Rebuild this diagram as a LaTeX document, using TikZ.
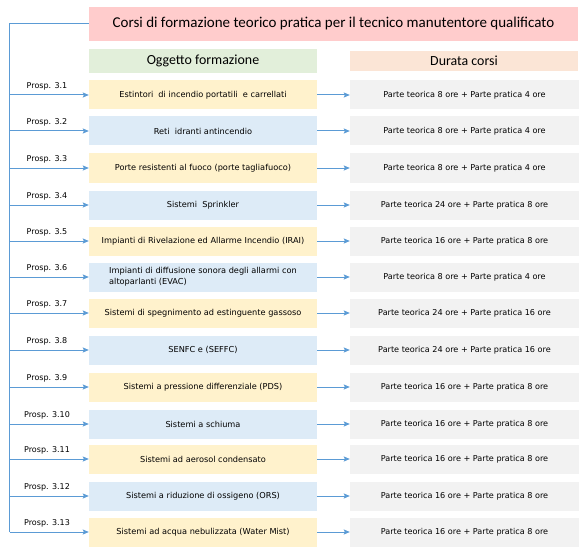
\documentclass[tikz,border=0pt]{standalone}
\usepackage{fontspec}
\setmainfont{DejaVu Sans}
\newfontfamily\hdfont{Carlito}
\usetikzlibrary{arrows.meta}
\definecolor{titlepink}{HTML}{FFCCCC}
\definecolor{hdgreen}{HTML}{E2EFDA}
\definecolor{hdpeach}{HTML}{FBE5D6}
\definecolor{rowyellow}{HTML}{FFF2CC}
\definecolor{rowblue}{HTML}{DDEBF7}
\definecolor{rowgray}{HTML}{F2F2F2}
\definecolor{linkblue}{HTML}{5B9BD5}
\tikzset{
  titlebox/.style={fill=titlepink,minimum width=489pt,minimum height=34pt,inner sep=0pt,font=\hdfont\fontsize{15}{17}\selectfont},
  hdbox/.style={minimum width=228pt,inner sep=0pt,font=\hdfont\fontsize{13.9}{15}\selectfont},
  itembox/.style={minimum width=228pt,minimum height=29pt,inner sep=0pt,align=left,font=\fontsize{8.2}{11}\selectfont},
  durbox/.style={fill=rowgray,minimum width=229pt,minimum height=29pt,inner sep=0pt,font=\fontsize{8.1}{10}\selectfont},
  link/.style={draw=linkblue,line width=1pt},
  linkarrow/.style={link,-{Stealth[length=6pt,width=5pt,inset=1pt]}},
  prosp/.style={inner sep=0pt,font=\fontsize{8}{9}\selectfont}
}
\begin{document}
\begin{tikzpicture}[x=1pt,y=-1pt]
\useasboundingbox (0,0) rectangle (588,556);
\node[titlebox] (title) at (333.5,24) {Corsi di formazione teorico pratica per il tecnico manutentore qualificato};
\node[hdbox,fill=hdgreen,minimum height=24pt] (hdobj) at (203,61) {Oggetto formazione};
\node[hdbox,fill=hdpeach,minimum height=20pt] (hddur) at (464,61) {Durata corsi};
\coordinate (trunktop) at (9.5,24);
\coordinate (trunkbot) at (9.5,532);
\draw[link] (title.west) -- (trunktop) -- (trunkbot);
\foreach \n/\y/\col/\txt/\dur in {
 1/95/rowyellow/{Estintori\hspace{0.3em} di incendio portatili\hspace{0.3em} e carrellati}/{Parte teorica 8 ore + Parte pratica 4 ore},
 2/131/rowblue/{Reti\hspace{0.3em} idranti antincendio}/{Parte teorica 8 ore + Parte pratica 4 ore},
 3/168/rowyellow/{Porte resistenti al fuoco (porte tagliafuoco)}/{Parte teorica 8 ore + Parte pratica 4 ore},
 4/205/rowblue/{Sistemi\hspace{0.3em} Sprinkler}/{Parte teorica 24 ore + Parte pratica 8 ore},
 5/241/rowyellow/{Impianti di Rivelazione ed Allarme Incendio (IRAI)}/{Parte teorica 16 ore + Parte pratica 8 ore},
 6/277/rowblue/{Impianti di diffusione sonora degli allarmi con\\altoparlanti (EVAC)}/{Parte teorica 8 ore + Parte pratica 4 ore},
 7/313/rowyellow/{Sistemi di spegnimento ad estinguente gassoso}/{Parte teorica 24 ore + Parte pratica 16 ore},
 8/350/rowblue/{SENFC e (SEFFC)}/{Parte teorica 24 ore + Parte pratica 16 ore},
 9/387/rowyellow/{Sistemi a pressione differenziale (PDS)}/{Parte teorica 16 ore + Parte pratica 8 ore},
 10/424/rowblue/{Sistemi a schiuma}/{Parte teorica 16 ore + Parte pratica 8 ore},
 11/459/rowyellow/{Sistemi ad aerosol condensato}/{Parte teorica 16 ore + Parte pratica 8 ore},
 12/496/rowblue/{Sistemi a riduzione di ossigeno (ORS)}/{Parte teorica 16 ore + Parte pratica 8 ore},
 13/532/rowyellow/{Sistemi ad acqua nebulizzata (Water Mist)}/{Parte teorica 16 ore + Parte pratica 8 ore}}
{
  \node[itembox,fill=\col] (item\n) at (203,\y) {\txt};
  \node[durbox] (dur\n) at (464.5,\y) {\dur};
  \coordinate (branch\n) at (9.5,\y);
  \node[prosp] (lab\n) at (47,\y-9) {Prosp. 3.\n};
  \draw[linkarrow] (branch\n) -- (item\n.west);
  \draw[linkarrow] (item\n.east) -- (dur\n.west);
}
\end{tikzpicture}
\end{document}
